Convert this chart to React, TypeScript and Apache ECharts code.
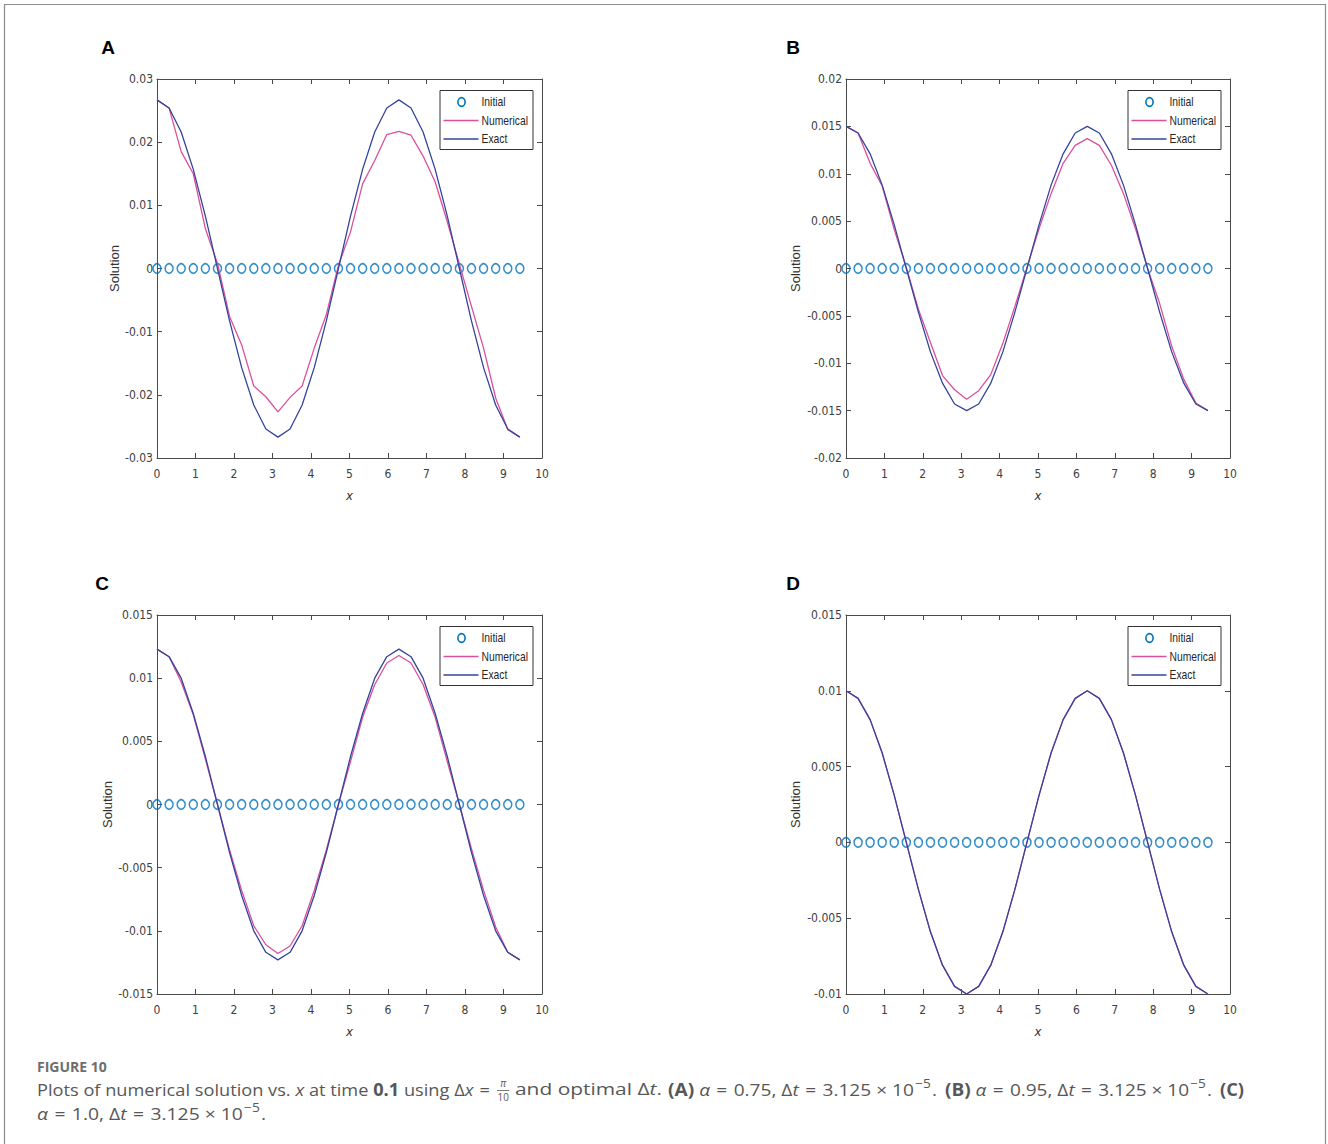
import React, { useEffect, useRef } from "react";
import * as echarts from "echarts";

// ---------------- data ----------------
const X = [0, 0.3142, 0.6283, 0.9425, 1.2566, 1.5708, 1.885, 2.1991, 2.5133, 2.8274, 3.1416, 3.4558, 3.7699, 4.0841, 4.3982, 4.7124, 5.0265, 5.3407, 5.6549, 5.969, 6.2832, 6.5973, 6.9115, 7.2257, 7.5398, 7.854, 8.1681, 8.4823, 8.7965, 9.1106, 9.4248];

const INITIAL = [0, 0, 0, 0, 0, 0, 0, 0, 0, 0, 0, 0, 0, 0, 0, 0, 0, 0, 0, 0, 0, 0, 0, 0, 0, 0, 0, 0, 0, 0, 0];

const A_EXACT = [0.0267, 0.0254, 0.0216, 0.0157, 0.0083, 0, -0.0083, -0.0157, -0.0216, -0.0254, -0.0267, -0.0254, -0.0216, -0.0157, -0.0083, 0, 0.0083, 0.0157, 0.0216, 0.0254, 0.0267, 0.0254, 0.0216, 0.0157, 0.0083, 0, -0.0083, -0.0157, -0.0216, -0.0254, -0.0267];
const A_NUM = [0.0267, 0.0254, 0.0185, 0.015, 0.0063, 0.0008, -0.0076, -0.0121, -0.0186, -0.0203, -0.0227, -0.0204, -0.0186, -0.0126, -0.0073, 0.0005, 0.0058, 0.0134, 0.0171, 0.0212, 0.0217, 0.0211, 0.0178, 0.0137, 0.0074, 0.0007, -0.006, -0.0126, -0.0205, -0.0255, -0.0267];

const B_EXACT = [0.015, 0.0143, 0.0121, 0.0088, 0.0046, 0, -0.0046, -0.0088, -0.0121, -0.0143, -0.015, -0.0143, -0.0121, -0.0088, -0.0046, 0, 0.0046, 0.0088, 0.0121, 0.0143, 0.015, 0.0143, 0.0121, 0.0088, 0.0046, 0, -0.0046, -0.0088, -0.0121, -0.0143, -0.015];
const B_NUM = [0.015, 0.0143, 0.0111, 0.0087, 0.0041, 0.0001, -0.0043, -0.0078, -0.0113, -0.0128, -0.0138, -0.0129, -0.0112, -0.0079, -0.004, 0.0001, 0.0042, 0.0079, 0.0111, 0.013, 0.0137, 0.013, 0.0109, 0.0079, 0.0042, 0, -0.0037, -0.0082, -0.0117, -0.0142, -0.015];

const C_EXACT = [0.0123, 0.0117, 0.01, 0.0072, 0.0038, 0, -0.0038, -0.0072, -0.01, -0.0117, -0.0123, -0.0117, -0.01, -0.0072, -0.0038, 0, 0.0038, 0.0072, 0.01, 0.0117, 0.0123, 0.0117, 0.01, 0.0072, 0.0038, 0, -0.0038, -0.0072, -0.01, -0.0117, -0.0123];
const C_NUM = [0.0123, 0.0117, 0.0097, 0.0071, 0.0036, 0, -0.0036, -0.0068, -0.0096, -0.0111, -0.0118, -0.0112, -0.0096, -0.0068, -0.0036, 0, 0.0034, 0.0069, 0.0095, 0.0112, 0.0118, 0.0112, 0.0095, 0.0069, 0.0034, 0, -0.0035, -0.0068, -0.0097, -0.0117, -0.0123];

const D_EXACT = [0.01, 0.0095, 0.0081, 0.0059, 0.0031, 0, -0.0031, -0.0059, -0.0081, -0.0095, -0.01, -0.0095, -0.0081, -0.0059, -0.0031, 0, 0.0031, 0.0059, 0.0081, 0.0095, 0.01, 0.0095, 0.0081, 0.0059, 0.0031, 0, -0.0031, -0.0059, -0.0081, -0.0095, -0.01];
const D_NUM = [0.01, 0.0095, 0.0081, 0.0059, 0.0031, 0, -0.0031, -0.0059, -0.0081, -0.0095, -0.01, -0.0095, -0.0081, -0.0059, -0.0031, 0, 0.0031, 0.0059, 0.0081, 0.0095, 0.01, 0.0095, 0.0081, 0.0059, 0.0031, 0, -0.0031, -0.0059, -0.0081, -0.0095, -0.01];

const PANEL_LABELS = ["A", "B", "C", "D"];
const Y_MIN = [-0.03, -0.02, -0.015, -0.01];
const Y_MAX = [0.03, 0.02, 0.015, 0.015];
const Y_INTERVAL = [0.01, 0.005, 0.005, 0.005];
const X_MIN = 0;
const X_MAX = 10;
const X_INTERVAL = 1;
const LEGEND_NAMES = ["Initial", "Numerical", "Exact"];
const NUMERICAL = [A_NUM, B_NUM, C_NUM, D_NUM];
const EXACT = [A_EXACT, B_EXACT, C_EXACT, D_EXACT];

// ---------------- styles ----------------
const COL_INIT = "#0072BD";
const COL_NUM = "#DC4F9B";
const COL_EXACT = "#34449C";
const AX = "#4a4a4a";
const TICKF = '"Liberation Sans Narrow", "DejaVu Sans Condensed", "Liberation Sans", sans-serif';
const CAPF = '"Open Sans", Lato, sans-serif';
const CAP_SIZE = 17;
const CAP_COLOR = "#575757";
const EQ = "\u2004=\u2004";

// grid geometry: [left, top, width, height]
const GRIDS = [
  [157, 79, 385, 379],
  [846, 79, 384, 379],
  [157, 615, 385, 379],
  [846, 615, 384, 379],
];
const NAME_GAP = [36, 44, 43, 44];
const LETTER_POS = [
  [108, 47],
  [793, 47],
  [102, 583],
  [793, 583],
];

function fmtY(v: number) {
  const r = Math.round(v * 100000) / 100000;
  return r === 0 ? "0" : String(r);
}

let measureCtx: CanvasRenderingContext2D | null = null;
function measure(text: string, font: string) {
  if (!measureCtx) measureCtx = document.createElement("canvas").getContext("2d");
  measureCtx!.font = font;
  return measureCtx!.measureText(text).width;
}

type Seg = { t: string; k?: "i" | "b" | "sup" | "frac" };
type Group = { x: number; w?: number; segs: Seg[] };

// caption, split into groups anchored at their reference x-positions / widths
const LINE1: Group[] = [
  {
    x: 37,
    w: 459,
    segs: [
      { t: "Plots of numerical solution vs. " },
      { t: "x", k: "i" },
      { t: " at time " },
      { t: "0.1", k: "b" },
      { t: " using Δ" },
      { t: "x", k: "i" },
      { t: EQ },
    ],
  },
  { x: 497, segs: [{ t: "π/10", k: "frac" }] },
  { x: 515, w: 147, segs: [{ t: "and optimal Δ" }, { t: "t", k: "i" }, { t: "." }] },
  {
    x: 668,
    w: 269,
    segs: [
      { t: "(A)", k: "b" },
      { t: " " },
      { t: "α", k: "i" },
      { t: EQ + "0.75, Δ" },
      { t: "t", k: "i" },
      { t: EQ + "3.125 × 10" },
      { t: "−5", k: "sup" },
      { t: "." },
    ],
  },
  {
    x: 945,
    w: 267,
    segs: [
      { t: "(B)", k: "b" },
      { t: " " },
      { t: "α", k: "i" },
      { t: EQ + "0.95, Δ" },
      { t: "t", k: "i" },
      { t: EQ + "3.125 × 10" },
      { t: "−5", k: "sup" },
      { t: "." },
    ],
  },
  { x: 1220, w: 24, segs: [{ t: "(C)", k: "b" }] },
];
const LINE2: Group[] = [
  {
    x: 37,
    w: 229,
    segs: [
      { t: "α", k: "i" },
      { t: EQ + "1.0, Δ" },
      { t: "t", k: "i" },
      { t: EQ + "3.125 × 10" },
      { t: "−5", k: "sup" },
      { t: "." },
    ],
  },
];

function segFont(seg: Seg, size: number) {
  if (seg.k === "i") return `italic normal ${size}px ${CAPF}`;
  if (seg.k === "b") return `normal bold ${size}px ${CAPF}`;
  if (seg.k === "sup") return `normal normal ${(size * 0.72).toFixed(1)}px ${CAPF}`;
  if (seg.k === "frac") return `normal normal ${(size * 0.58).toFixed(1)}px ${CAPF}`;
  return `normal normal ${size}px ${CAPF}`;
}
function segWidth(seg: Seg, size: number) {
  if (seg.k === "frac") return measure("10", segFont(seg, size)) + 1;
  if (seg.k === "sup") return measure(seg.t, segFont(seg, size)) + 2;
  return measure(seg.t, segFont(seg, size));
}

function layoutGroups(groups: Group[], y: number, size: number, color: string) {
  const els: any[] = [];
  for (const g of groups) {
    const natural = g.segs.reduce((s, seg) => s + segWidth(seg, size), 0);
    let k = g.w ? g.w / natural : 1;
    k = Math.max(0.85, Math.min(1.25, k));
    let x = g.x;
    for (const seg of g.segs) {
      const w = segWidth(seg, size) * k;
      if (seg.k === "frac") {
        const f = segFont(seg, size);
        els.push({
          type: "text",
          x: x + w / 2,
          y: y - 6,
          silent: true,
          style: { text: "π", font: `italic normal ${(size * 0.58).toFixed(1)}px ${CAPF}`, fill: color, align: "center", verticalAlign: "middle", textAlign: "center", textVerticalAlign: "middle" },
        });
        els.push({ type: "line", silent: true, shape: { x1: x, y1: y + 1.5, x2: x + w, y2: y + 1.5 }, style: { stroke: color, lineWidth: 0.8 } });
        els.push({
          type: "text",
          x: x + w / 2,
          y: y + 8,
          silent: true,
          style: { text: "10", font: f, fill: color, align: "center", verticalAlign: "middle", textAlign: "center", textVerticalAlign: "middle" },
        });
      } else {
        els.push({
          type: "text",
          x: seg.k === "sup" ? x + k : x,
          y: seg.k === "sup" ? y - 6 : y,
          scaleX: k,
          silent: true,
          style: { text: seg.t, font: segFont(seg, size), fill: color, align: "left", verticalAlign: "middle", textAlign: "left", textVerticalAlign: "middle" },
        });
      }
      x += w;
    }
  }
  return els;
}

function buildOption() {
  const grid: any[] = [];
  const xAxis: any[] = [];
  const yAxis: any[] = [];
  const series: any[] = [];
  const graphic: any[] = [];

  GRIDS.forEach((g, i) => {
    grid.push({ left: g[0], top: g[1], width: g[2], height: g[3], containLabel: false });
    const commonX = {
      gridIndex: i,
      type: "value",
      min: X_MIN,
      max: X_MAX,
      interval: X_INTERVAL,
      splitLine: { show: false },
      axisLine: { show: true, onZero: false, lineStyle: { color: AX, width: 1 } },
      axisTick: { show: true, inside: true, length: 5, lineStyle: { color: AX, width: 1 } },
    };
    xAxis.push({
      ...commonX,
      position: "bottom",
      axisLabel: { show: true, margin: 10, color: "#404040", fontSize: 12, fontFamily: TICKF },
      name: "x",
      nameLocation: "middle",
      nameGap: 31,
      nameTextStyle: { fontStyle: "italic", fontSize: 13, color: "#333", fontFamily: TICKF },
    });
    xAxis.push({ ...commonX, position: "top", axisLabel: { show: false } });

    const commonY = {
      gridIndex: i,
      type: "value",
      min: Y_MIN[i],
      max: Y_MAX[i],
      interval: Y_INTERVAL[i],
      splitLine: { show: false },
      axisLine: { show: true, onZero: false, lineStyle: { color: AX, width: 1 } },
      axisTick: { show: true, inside: true, length: 5, lineStyle: { color: AX, width: 1 } },
    };
    yAxis.push({
      ...commonY,
      position: "left",
      axisLabel: { show: true, margin: 4, color: "#404040", fontSize: 12, fontFamily: TICKF, formatter: fmtY },
      name: "Solution",
      nameLocation: "middle",
      nameGap: NAME_GAP[i],
      nameTextStyle: { fontSize: 13, color: "#333", fontFamily: '"Liberation Sans", sans-serif' },
    });
    yAxis.push({ ...commonY, position: "right", axisLabel: { show: false } });

    const xi = i * 2;
    const yi = i * 2;
    series.push({
      name: LEGEND_NAMES[0],
      type: "scatter",
      xAxisIndex: xi,
      yAxisIndex: yi,
      symbol: "circle",
      symbolSize: [8, 9.5],
      silent: true,
      itemStyle: { color: "rgba(255,255,255,0)", borderColor: COL_INIT, borderWidth: 1.6 },
      data: X.map((x, k) => [x, INITIAL[k]]),
    });
    series.push({
      name: LEGEND_NAMES[1],
      type: "line",
      xAxisIndex: xi,
      yAxisIndex: yi,
      showSymbol: false,
      symbol: "none",
      silent: true,
      lineStyle: { color: COL_NUM, width: 1.3 },
      data: X.map((x, k) => [x, NUMERICAL[i][k]]),
    });
    series.push({
      name: LEGEND_NAMES[2],
      type: "line",
      xAxisIndex: xi,
      yAxisIndex: yi,
      showSymbol: false,
      symbol: "none",
      silent: true,
      lineStyle: { color: COL_EXACT, width: 1.3 },
      data: X.map((x, k) => [x, EXACT[i][k]]),
    });

    // legend box (MATLAB style)
    const rx = g[0] + g[2] - 9.5 - 93;
    const ry = g[1] + 11;
    graphic.push({
      type: "rect",
      silent: true,
      z: 10,
      shape: { x: rx + 0.5, y: ry + 0.5, width: 93, height: 59 },
      style: { fill: "#ffffff", stroke: "#333", lineWidth: 1 },
    });
    graphic.push({
      type: "ellipse",
      silent: true,
      z: 11,
      shape: { cx: rx + 22, cy: ry + 12, rx: 3.6, ry: 4.4 },
      style: { fill: "none", stroke: COL_INIT, lineWidth: 1.6 },
    });
    graphic.push({ type: "line", silent: true, z: 11, shape: { x1: rx + 4, y1: ry + 30.5, x2: rx + 39, y2: ry + 30.5 }, style: { stroke: COL_NUM, lineWidth: 1.3 } });
    graphic.push({ type: "line", silent: true, z: 11, shape: { x1: rx + 4, y1: ry + 49, x2: rx + 39, y2: ry + 49 }, style: { stroke: COL_EXACT, lineWidth: 1.3 } });
    [12, 30.5, 49].forEach((dy, j) => {
      graphic.push({
        type: "text",
        silent: true,
        z: 11,
        x: rx + 42,
        y: ry + dy,
        scaleX: 0.86,
        style: { text: LEGEND_NAMES[j], font: `normal normal 12px "Liberation Sans", Arial, sans-serif`, fill: "#262626", align: "left", verticalAlign: "middle", textAlign: "left", textVerticalAlign: "middle" },
      });
    });

    // panel letter
    graphic.push({
      type: "text",
      silent: true,
      x: LETTER_POS[i][0],
      y: LETTER_POS[i][1],
      style: { text: PANEL_LABELS[i], font: `normal bold 19px "Liberation Sans", Arial, sans-serif`, fill: "#000", align: "center", verticalAlign: "middle", textAlign: "center", textVerticalAlign: "middle" },
    });
  });

  // outer border
  graphic.push({
    type: "rect",
    silent: true,
    shape: { x: 4.5, y: 4.5, width: 1321, height: 1160 },
    style: { fill: "none", stroke: "#8c8c8c", lineWidth: 1.2 },
  });

  // caption
  graphic.push({
    type: "text",
    silent: true,
    x: 37,
    y: 1066,
    style: { text: "FIGURE 10", font: `normal bold 14px ${CAPF}`, fill: "#6e6e6e", align: "left", verticalAlign: "middle", textAlign: "left", textVerticalAlign: "middle" },
  });
  graphic.push(...layoutGroups(LINE1, 1089, CAP_SIZE, CAP_COLOR));
  graphic.push(...layoutGroups(LINE2, 1113, CAP_SIZE, CAP_COLOR));

  return {
    animation: false,
    backgroundColor: "#ffffff",
    grid,
    xAxis,
    yAxis,
    series,
    graphic: { elements: graphic },
  };
}

export default function App() {
  const ref = useRef<HTMLDivElement>(null);
  useEffect(() => {
    if (!ref.current) return;
    const chart = echarts.init(ref.current, null, { renderer: "svg" });
    chart.setOption(buildOption() as any);
    return () => chart.dispose();
  }, []);
  return (
    <div
      ref={ref}
      style={{ position: "absolute", left: 0, top: 0, width: 1328, height: 1144, background: "#fff" }}
    />
  );
}
